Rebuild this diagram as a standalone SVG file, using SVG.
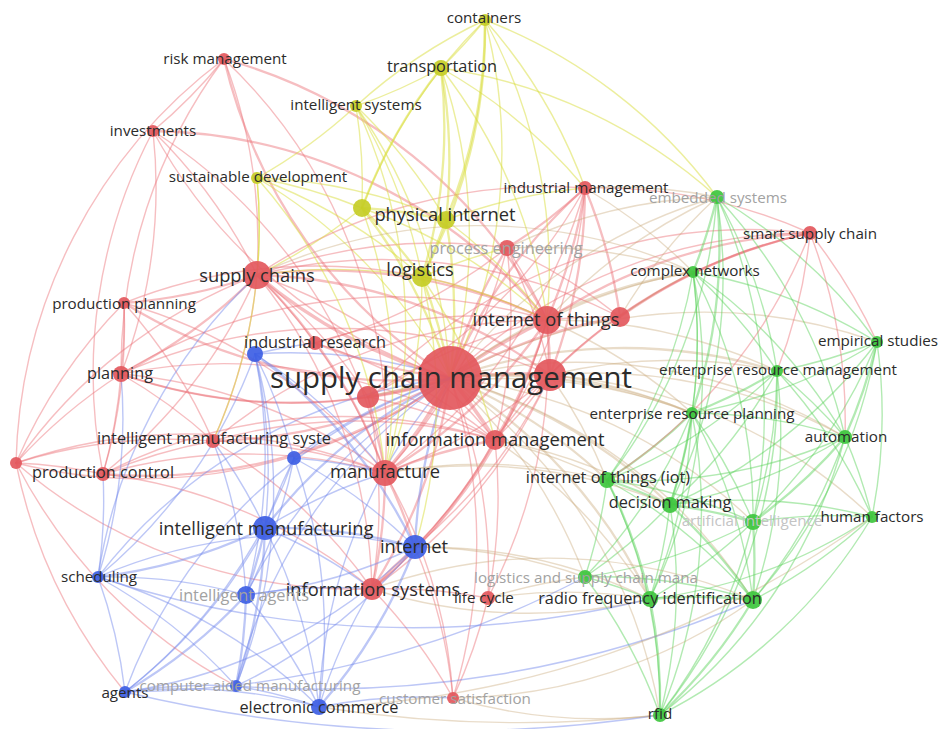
<svg xmlns="http://www.w3.org/2000/svg" width="939" height="729" viewBox="0 0 939 729">
<style>
.c path{fill:none;stroke-width:1.4;stroke-linecap:round}
.r{stroke:#ec6f76;stroke-opacity:.45}
.y{stroke:#d9dd3c;stroke-opacity:.5}
.g{stroke:#55d155;stroke-opacity:.45}
.b{stroke:#6c82ea;stroke-opacity:.45}
.o{stroke:#c9a877;stroke-opacity:.4}
.w2{stroke-width:2.3!important}
.w3{stroke-width:3.5!important}
.nr{fill:#e3585d;fill-opacity:.92}
.ny{fill:#c5cd26;fill-opacity:.92}
.ng{fill:#3ec63e;fill-opacity:.92}
.nb{fill:#3d5ee4;fill-opacity:.92}
text{font-family:"Open Sans","Noto Sans",sans-serif;text-anchor:middle;dominant-baseline:central;fill:#2b2b2b}
.f{fill:#a2a2a2}
.ff{fill:#c4c4c4}
.s{font-size:15.2px}
.m{font-size:16.3px}
.l{font-size:18.3px}
.xl{font-size:29.4px}
</style>
<rect width="939" height="729" fill="#fff"/>
<g id="connectors" class="c">
<path class="r w2" d="M450 378A520 520 0 0 1 224 59"/>
<path class="r" d="M450 378A520 520 0 0 1 153 131"/>
<path class="r w3" d="M450 378A520 520 0 0 1 257 275"/>
<path class="r w2" d="M450 378A520 520 0 0 1 124 303"/>
<path class="r w2" d="M450 378A520 520 0 0 1 315 343"/>
<path class="r w2" d="M450 378A520 520 0 0 1 121 374"/>
<path class="r w2" d="M450 378A520 520 0 0 1 213 441"/>
<path class="r w2" d="M450 378A520 520 0 0 1 103 474"/>
<path class="r" d="M450 378A520 520 0 0 1 16 463"/>
<path class="r w3" d="M450 378A520 520 0 0 1 368 397"/>
<path class="r w3" d="M450 378A520 520 0 0 1 550 375"/>
<path class="r w3" d="M450 378A520 520 0 0 1 547 320"/>
<path class="r w2" d="M450 378A520 520 0 0 1 620 317"/>
<path class="r w3" d="M450 378A520 520 0 0 1 495 440"/>
<path class="r w3" d="M450 378A520 520 0 0 1 385 473"/>
<path class="r w2" d="M450 378A520 520 0 0 1 372 589"/>
<path class="r" d="M450 378A520 520 0 0 1 488 598"/>
<path class="r" d="M450 378A520 520 0 0 1 453 698"/>
<path class="r w2" d="M450 378A520 520 0 0 1 507 248"/>
<path class="r w2" d="M450 378A520 520 0 0 1 585 188"/>
<path class="r" d="M450 378A520 520 0 0 1 810 233"/>
<path class="y w2" d="M422 277A520 520 0 0 1 450 378"/>
<path class="y w2" d="M362 208A520 520 0 0 1 450 378"/>
<path class="y w2" d="M446 220A520 520 0 0 1 450 378"/>
<path class="y" d="M441 68A520 520 0 0 1 450 378"/>
<path class="y" d="M356 106A520 520 0 0 1 450 378"/>
<path class="y" d="M257 178A520 520 0 0 1 450 378"/>
<path class="y" d="M485 20A520 520 0 0 1 450 378"/>
<path class="o" d="M450 378A520 520 0 0 1 717 197"/>
<path class="o w2" d="M450 378A520 520 0 0 1 693 272"/>
<path class="o" d="M450 378A520 520 0 0 1 877 342"/>
<path class="o w2" d="M450 378A520 520 0 0 1 777 371"/>
<path class="o w2" d="M450 378A520 520 0 0 1 692 413"/>
<path class="o" d="M450 378A520 520 0 0 1 845 437"/>
<path class="o w2" d="M450 378A520 520 0 0 1 607 480"/>
<path class="o w2" d="M450 378A520 520 0 0 1 670 505"/>
<path class="o" d="M450 378A520 520 0 0 1 753 522"/>
<path class="o" d="M450 378A520 520 0 0 1 872 517"/>
<path class="o" d="M450 378A520 520 0 0 1 585 577"/>
<path class="o w2" d="M450 378A520 520 0 0 1 650 599"/>
<path class="o" d="M450 378A520 520 0 0 1 753 600"/>
<path class="o" d="M450 378A520 520 0 0 1 660 715"/>
<path class="b w2" d="M265 528A520 520 0 0 1 450 378"/>
<path class="b w2" d="M415 547A520 520 0 0 1 450 378"/>
<path class="b" d="M98 577A520 520 0 0 1 450 378"/>
<path class="b" d="M246 595A520 520 0 0 1 450 378"/>
<path class="b" d="M125 692A520 520 0 0 1 450 378"/>
<path class="b" d="M236 686A520 520 0 0 1 450 378"/>
<path class="b" d="M319 707A520 520 0 0 1 450 378"/>
<path class="b" d="M255 354A520 520 0 0 1 450 378"/>
<path class="b" d="M294 458A520 520 0 0 1 450 378"/>
<path class="r w2" d="M257 275A520 520 0 0 1 124 303"/>
<path class="r w2" d="M257 275A520 520 0 0 1 121 374"/>
<path class="r" d="M257 275A520 520 0 0 1 213 441"/>
<path class="r" d="M257 275A520 520 0 0 1 103 474"/>
<path class="r" d="M153 131A520 520 0 0 1 257 275"/>
<path class="r" d="M224 59A520 520 0 0 1 257 275"/>
<path class="r" d="M257 275A520 520 0 0 1 315 343"/>
<path class="r w2" d="M257 275A520 520 0 0 1 547 320"/>
<path class="r w2" d="M257 275A520 520 0 0 1 385 473"/>
<path class="r" d="M257 275A520 520 0 0 1 495 440"/>
<path class="r" d="M16 463A520 520 0 0 1 257 275"/>
<path class="r" d="M257 275A520 520 0 0 1 507 248"/>
<path class="r w2" d="M257 275A520 520 0 0 1 550 375"/>
<path class="r" d="M257 275A520 520 0 0 1 372 589"/>
<path class="r" d="M257 275A520 520 0 0 1 368 397"/>
<path class="r" d="M257 275A520 520 0 0 1 585 188"/>
<path class="r" d="M257 275A520 520 0 0 1 620 317"/>
<path class="r" d="M124 303A520 520 0 0 1 121 374"/>
<path class="r" d="M121 374A520 520 0 0 1 103 474"/>
<path class="r" d="M121 374A520 520 0 0 1 213 441"/>
<path class="r" d="M16 463A520 520 0 0 1 121 374"/>
<path class="r" d="M121 374A520 520 0 0 1 385 473"/>
<path class="r" d="M121 374A520 520 0 0 1 495 440"/>
<path class="r" d="M121 374A520 520 0 0 1 547 320"/>
<path class="r" d="M121 374A520 520 0 0 1 550 375"/>
<path class="r" d="M16 463A520 520 0 0 1 103 474"/>
<path class="r" d="M103 474A520 520 0 0 1 213 441"/>
<path class="r" d="M103 474A520 520 0 0 1 385 473"/>
<path class="r" d="M103 474A520 520 0 0 1 372 589"/>
<path class="r" d="M103 474A520 520 0 0 1 495 440"/>
<path class="r" d="M16 463A520 520 0 0 1 124 303"/>
<path class="r" d="M124 303A520 520 0 0 1 103 474"/>
<path class="r" d="M124 303A520 520 0 0 1 547 320"/>
<path class="r" d="M124 303A520 520 0 0 1 385 473"/>
<path class="r" d="M124 303A520 520 0 0 1 213 441"/>
<path class="r" d="M224 59A520 520 0 0 1 153 131"/>
<path class="r" d="M153 131A520 520 0 0 1 121 374"/>
<path class="r" d="M153 131A520 520 0 0 1 385 473"/>
<path class="r w2" d="M153 131A520 520 0 0 1 547 320"/>
<path class="r" d="M224 59A520 520 0 0 1 385 473"/>
<path class="r w2" d="M224 59A520 520 0 0 1 547 320"/>
<path class="r" d="M121 374A520 520 0 0 1 224 59"/>
<path class="r" d="M213 441A520 520 0 0 1 385 473"/>
<path class="r" d="M213 441A520 520 0 0 1 495 440"/>
<path class="r" d="M213 441A520 520 0 0 1 372 589"/>
<path class="r" d="M213 441A520 520 0 0 1 547 320"/>
<path class="r" d="M16 463A520 520 0 0 1 385 473"/>
<path class="r" d="M372 589A520 520 0 0 1 16 463"/>
<path class="r" d="M16 463A520 520 0 0 1 213 441"/>
<path class="r" d="M315 343A520 520 0 0 1 385 473"/>
<path class="r" d="M315 343A520 520 0 0 1 547 320"/>
<path class="r" d="M315 343A520 520 0 0 1 495 440"/>
<path class="r" d="M368 397A520 520 0 0 1 385 473"/>
<path class="r" d="M368 397A520 520 0 0 1 495 440"/>
<path class="r" d="M368 397A520 520 0 0 1 547 320"/>
<path class="r" d="M368 397A520 520 0 0 1 121 374"/>
<path class="r w2" d="M585 188A520 520 0 0 1 547 320"/>
<path class="r w2" d="M585 188A520 520 0 0 1 507 248"/>
<path class="r w2" d="M585 188A520 520 0 0 1 550 375"/>
<path class="r" d="M585 188A520 520 0 0 1 495 440"/>
<path class="r" d="M585 188A520 520 0 0 1 385 473"/>
<path class="r" d="M585 188A520 520 0 0 1 810 233"/>
<path class="r w2" d="M585 188A520 520 0 0 1 620 317"/>
<path class="r" d="M585 188A520 520 0 0 1 368 397"/>
<path class="r" d="M507 248A520 520 0 0 1 547 320"/>
<path class="r" d="M507 248A520 520 0 0 1 385 473"/>
<path class="r" d="M507 248A520 520 0 0 1 495 440"/>
<path class="r" d="M507 248A520 520 0 0 1 550 375"/>
<path class="r" d="M507 248A520 520 0 0 1 315 343"/>
<path class="r" d="M507 248A520 520 0 0 1 620 317"/>
<path class="r w2" d="M547 320A520 520 0 0 1 550 375"/>
<path class="r w2" d="M547 320A520 520 0 0 1 495 440"/>
<path class="r w2" d="M547 320A520 520 0 0 1 385 473"/>
<path class="r w2" d="M547 320A520 520 0 0 1 810 233"/>
<path class="r" d="M547 320A520 520 0 0 1 620 317"/>
<path class="r" d="M547 320A520 520 0 0 1 372 589"/>
<path class="r w2" d="M620 317A520 520 0 0 1 810 233"/>
<path class="r w2" d="M550 375A520 520 0 0 1 810 233"/>
<path class="r" d="M368 397A520 520 0 0 1 810 233"/>
<path class="r" d="M495 440A520 520 0 0 1 810 233"/>
<path class="r w2" d="M385 473A520 520 0 0 1 495 440"/>
<path class="r w2" d="M385 473A520 520 0 0 1 372 589"/>
<path class="r" d="M372 589A520 520 0 0 1 488 598"/>
<path class="r" d="M372 589A520 520 0 0 1 453 698"/>
<path class="r" d="M488 598A520 520 0 0 1 453 698"/>
<path class="r" d="M495 440A520 520 0 0 1 488 598"/>
<path class="r w2" d="M495 440A520 520 0 0 1 372 589"/>
<path class="r" d="M385 473A520 520 0 0 1 453 698"/>
<path class="r" d="M547 320A520 520 0 0 1 488 598"/>
<path class="r" d="M415 547A520 520 0 0 1 453 698"/>
<path class="r" d="M550 375A520 520 0 0 1 495 440"/>
<path class="r" d="M550 375A520 520 0 0 1 385 473"/>
<path class="r" d="M550 375A520 520 0 0 1 372 589"/>
<path class="r w2" d="M385 473A520 520 0 0 1 415 547"/>
<path class="r w2" d="M372 589A520 520 0 0 1 415 547"/>
<path class="r" d="M495 440A520 520 0 0 1 415 547"/>
<path class="r" d="M547 320A520 520 0 0 1 415 547"/>
<path class="r" d="M550 375A520 520 0 0 1 415 547"/>
<path class="r" d="M368 397A520 520 0 0 1 372 589"/>
<path class="y" d="M485 20A520 520 0 0 1 441 68"/>
<path class="y" d="M356 106A520 520 0 0 1 485 20"/>
<path class="y w2" d="M485 20A520 520 0 0 1 422 277"/>
<path class="y" d="M362 208A520 520 0 0 1 485 20"/>
<path class="y w2" d="M485 20A520 520 0 0 1 446 220"/>
<path class="y" d="M485 20A520 520 0 0 1 717 197"/>
<path class="y" d="M485 20A520 520 0 0 1 585 188"/>
<path class="y" d="M485 20A520 520 0 0 1 547 320"/>
<path class="y" d="M441 68A520 520 0 0 1 356 106"/>
<path class="y w2" d="M362 208A520 520 0 0 1 441 68"/>
<path class="y w2" d="M441 68A520 520 0 0 1 422 277"/>
<path class="y w2" d="M441 68A520 520 0 0 1 446 220"/>
<path class="y" d="M441 68A520 520 0 0 1 585 188"/>
<path class="y" d="M441 68A520 520 0 0 1 717 197"/>
<path class="y" d="M441 68A520 520 0 0 1 547 320"/>
<path class="y" d="M356 106A520 520 0 0 1 362 208"/>
<path class="y" d="M356 106A520 520 0 0 1 422 277"/>
<path class="y" d="M356 106A520 520 0 0 1 257 178"/>
<path class="y" d="M356 106A520 520 0 0 1 446 220"/>
<path class="y" d="M356 106A520 520 0 0 1 385 473"/>
<path class="y" d="M257 178A520 520 0 0 1 362 208"/>
<path class="y" d="M257 178A520 520 0 0 1 422 277"/>
<path class="y" d="M257 178A520 520 0 0 1 257 275"/>
<path class="y" d="M257 178A520 520 0 0 1 446 220"/>
<path class="y" d="M257 178A520 520 0 0 1 213 441"/>
<path class="y" d="M257 178A520 520 0 0 1 385 473"/>
<path class="y w2" d="M362 208A520 520 0 0 1 422 277"/>
<path class="y w2" d="M362 208A520 520 0 0 1 446 220"/>
<path class="y w2" d="M446 220A520 520 0 0 1 422 277"/>
<path class="y" d="M422 277A520 520 0 0 1 547 320"/>
<path class="y" d="M422 277A520 520 0 0 1 507 248"/>
<path class="y" d="M422 277A520 520 0 0 1 385 473"/>
<path class="y" d="M257 275A520 520 0 0 1 422 277"/>
<path class="y" d="M362 208A520 520 0 0 1 547 320"/>
<path class="y" d="M362 208A520 520 0 0 1 257 275"/>
<path class="y" d="M446 220A520 520 0 0 1 547 320"/>
<path class="y" d="M422 277A520 520 0 0 1 415 547"/>
<path class="y" d="M422 277A520 520 0 0 1 495 440"/>
<path class="y" d="M446 220A520 520 0 0 1 585 188"/>
<path class="y" d="M362 208A520 520 0 0 1 385 473"/>
<path class="g w2" d="M717 197A520 520 0 0 1 693 272"/>
<path class="g" d="M717 197A520 520 0 0 1 777 371"/>
<path class="g w2" d="M717 197A520 520 0 0 1 692 413"/>
<path class="g" d="M717 197A520 520 0 0 1 607 480"/>
<path class="g" d="M717 197A520 520 0 0 1 845 437"/>
<path class="g" d="M717 197A520 520 0 0 1 877 342"/>
<path class="g" d="M717 197A520 520 0 0 1 670 505"/>
<path class="g" d="M717 197A520 520 0 0 1 753 522"/>
<path class="g" d="M693 272A520 520 0 0 1 777 371"/>
<path class="g" d="M693 272A520 520 0 0 1 692 413"/>
<path class="g" d="M693 272A520 520 0 0 1 607 480"/>
<path class="g" d="M693 272A520 520 0 0 1 670 505"/>
<path class="g" d="M693 272A520 520 0 0 1 845 437"/>
<path class="g" d="M693 272A520 520 0 0 1 753 522"/>
<path class="g" d="M693 272A520 520 0 0 1 877 342"/>
<path class="g" d="M693 272A520 520 0 0 1 650 599"/>
<path class="g" d="M877 342A520 520 0 0 1 777 371"/>
<path class="g w2" d="M877 342A520 520 0 0 1 845 437"/>
<path class="g" d="M877 342A520 520 0 0 1 872 517"/>
<path class="g" d="M877 342A520 520 0 0 1 753 522"/>
<path class="g" d="M877 342A520 520 0 0 1 753 600"/>
<path class="g" d="M877 342A520 520 0 0 1 670 505"/>
<path class="g" d="M877 342A520 520 0 0 1 692 413"/>
<path class="g w2" d="M777 371A520 520 0 0 1 692 413"/>
<path class="g" d="M777 371A520 520 0 0 1 845 437"/>
<path class="g" d="M777 371A520 520 0 0 1 753 522"/>
<path class="g" d="M777 371A520 520 0 0 1 872 517"/>
<path class="g" d="M777 371A520 520 0 0 1 670 505"/>
<path class="g" d="M777 371A520 520 0 0 1 607 480"/>
<path class="g" d="M777 371A520 520 0 0 1 753 600"/>
<path class="g" d="M777 371A520 520 0 0 1 660 715"/>
<path class="g w2" d="M692 413A520 520 0 0 1 607 480"/>
<path class="g w2" d="M692 413A520 520 0 0 1 670 505"/>
<path class="g" d="M692 413A520 520 0 0 1 753 522"/>
<path class="g" d="M692 413A520 520 0 0 1 845 437"/>
<path class="g" d="M692 413A520 520 0 0 1 650 599"/>
<path class="g" d="M692 413A520 520 0 0 1 585 577"/>
<path class="g" d="M692 413A520 520 0 0 1 753 600"/>
<path class="g" d="M692 413A520 520 0 0 1 660 715"/>
<path class="g" d="M845 437A520 520 0 0 1 872 517"/>
<path class="g w2" d="M845 437A520 520 0 0 1 753 522"/>
<path class="g" d="M845 437A520 520 0 0 1 753 600"/>
<path class="g" d="M845 437A520 520 0 0 1 670 505"/>
<path class="g" d="M845 437A520 520 0 0 1 660 715"/>
<path class="g" d="M845 437A520 520 0 0 1 607 480"/>
<path class="g w2" d="M607 480A520 520 0 0 1 670 505"/>
<path class="g" d="M607 480A520 520 0 0 1 753 522"/>
<path class="g" d="M607 480A520 520 0 0 1 585 577"/>
<path class="g w2" d="M607 480A520 520 0 0 1 650 599"/>
<path class="g" d="M607 480A520 520 0 0 1 753 600"/>
<path class="g" d="M607 480A520 520 0 0 1 660 715"/>
<path class="g w2" d="M670 505A520 520 0 0 1 753 522"/>
<path class="g" d="M670 505A520 520 0 0 1 585 577"/>
<path class="g" d="M670 505A520 520 0 0 1 650 599"/>
<path class="g w2" d="M670 505A520 520 0 0 1 753 600"/>
<path class="g" d="M670 505A520 520 0 0 1 660 715"/>
<path class="g" d="M670 505A520 520 0 0 1 872 517"/>
<path class="g" d="M753 522A520 520 0 0 1 872 517"/>
<path class="g w2" d="M753 522A520 520 0 0 1 753 600"/>
<path class="g" d="M753 522A520 520 0 0 1 660 715"/>
<path class="g" d="M753 522A520 520 0 0 1 650 599"/>
<path class="g" d="M753 522A520 520 0 0 1 585 577"/>
<path class="g" d="M872 517A520 520 0 0 1 753 600"/>
<path class="g" d="M872 517A520 520 0 0 1 660 715"/>
<path class="g" d="M872 517A520 520 0 0 1 650 599"/>
<path class="g" d="M585 577A520 520 0 0 1 650 599"/>
<path class="g" d="M585 577A520 520 0 0 1 753 600"/>
<path class="g" d="M585 577A520 520 0 0 1 660 715"/>
<path class="g w2" d="M650 599A520 520 0 0 1 753 600"/>
<path class="g w2" d="M650 599A520 520 0 0 1 660 715"/>
<path class="g w2" d="M753 600A520 520 0 0 1 660 715"/>
<path class="o" d="M547 320A520 520 0 0 1 693 272"/>
<path class="o" d="M547 320A520 520 0 0 1 777 371"/>
<path class="o" d="M547 320A520 520 0 0 1 692 413"/>
<path class="o" d="M547 320A520 520 0 0 1 717 197"/>
<path class="o" d="M620 317A520 520 0 0 1 717 197"/>
<path class="o" d="M620 317A520 520 0 0 1 693 272"/>
<path class="o" d="M550 375A520 520 0 0 1 692 413"/>
<path class="o" d="M550 375A520 520 0 0 1 607 480"/>
<path class="o" d="M550 375A520 520 0 0 1 777 371"/>
<path class="o" d="M550 375A520 520 0 0 1 845 437"/>
<path class="o" d="M495 440A520 520 0 0 1 607 480"/>
<path class="o" d="M495 440A520 520 0 0 1 670 505"/>
<path class="o" d="M495 440A520 520 0 0 1 650 599"/>
<path class="o" d="M488 598A520 520 0 0 1 585 577"/>
<path class="o" d="M488 598A520 520 0 0 1 650 599"/>
<path class="o" d="M660 715A520 520 0 0 1 453 698"/>
<path class="o" d="M753 600A520 520 0 0 1 453 698"/>
<path class="o" d="M650 599A520 520 0 0 1 372 589"/>
<path class="o" d="M415 547A520 520 0 0 1 650 599"/>
<path class="o" d="M415 547A520 520 0 0 1 585 577"/>
<path class="o" d="M585 188A520 520 0 0 1 717 197"/>
<path class="o" d="M585 188A520 520 0 0 1 693 272"/>
<path class="o" d="M507 248A520 520 0 0 1 717 197"/>
<path class="o" d="M507 248A520 520 0 0 1 693 272"/>
<path class="o" d="M385 473A520 520 0 0 1 607 480"/>
<path class="o" d="M372 589A520 520 0 0 1 753 600"/>
<path class="o" d="M385 473A520 520 0 0 1 670 505"/>
<path class="o" d="M368 397A520 520 0 0 1 692 413"/>
<path class="o" d="M257 275A520 520 0 0 1 693 272"/>
<path class="r" d="M810 233A520 520 0 0 1 777 371"/>
<path class="r" d="M810 233A520 520 0 0 1 845 437"/>
<path class="r" d="M810 233A520 520 0 0 1 877 342"/>
<path class="r" d="M810 233A520 520 0 0 1 607 480"/>
<path class="b w2" d="M265 528A520 520 0 0 1 246 595"/>
<path class="b w2" d="M265 528A520 520 0 0 1 98 577"/>
<path class="b" d="M265 528A520 520 0 0 1 125 692"/>
<path class="b w2" d="M265 528A520 520 0 0 1 236 686"/>
<path class="b" d="M265 528A520 520 0 0 1 319 707"/>
<path class="b w2" d="M265 528A520 520 0 0 1 415 547"/>
<path class="b" d="M265 528A520 520 0 0 1 294 458"/>
<path class="b" d="M255 354A520 520 0 0 1 265 528"/>
<path class="b" d="M265 528A520 520 0 0 1 385 473"/>
<path class="b" d="M265 528A520 520 0 0 1 372 589"/>
<path class="b" d="M213 441A520 520 0 0 1 265 528"/>
<path class="b" d="M415 547A520 520 0 0 1 246 595"/>
<path class="b w2" d="M415 547A520 520 0 0 1 319 707"/>
<path class="b" d="M415 547A520 520 0 0 1 236 686"/>
<path class="b" d="M294 458A520 520 0 0 1 415 547"/>
<path class="b w2" d="M255 354A520 520 0 0 1 415 547"/>
<path class="b" d="M98 577A520 520 0 0 1 415 547"/>
<path class="b" d="M415 547A520 520 0 0 1 125 692"/>
<path class="b" d="M98 577A520 520 0 0 1 246 595"/>
<path class="b w2" d="M246 595A520 520 0 0 1 125 692"/>
<path class="b w2" d="M246 595A520 520 0 0 1 236 686"/>
<path class="b" d="M246 595A520 520 0 0 1 319 707"/>
<path class="b" d="M246 595A520 520 0 0 1 372 589"/>
<path class="b" d="M98 577A520 520 0 0 1 125 692"/>
<path class="b" d="M98 577A520 520 0 0 1 236 686"/>
<path class="b" d="M98 577A520 520 0 0 1 319 707"/>
<path class="b" d="M125 692A520 520 0 0 1 236 686"/>
<path class="b" d="M125 692A520 520 0 0 1 319 707"/>
<path class="b" d="M236 686A520 520 0 0 1 319 707"/>
<path class="b" d="M255 354A520 520 0 0 1 294 458"/>
<path class="b" d="M255 354A520 520 0 0 1 315 343"/>
<path class="b" d="M255 354A520 520 0 0 1 385 473"/>
<path class="b" d="M255 354A520 520 0 0 1 246 595"/>
<path class="b" d="M294 458A520 520 0 0 1 246 595"/>
<path class="b" d="M294 458A520 520 0 0 1 385 473"/>
<path class="b" d="M255 354A520 520 0 0 1 98 577"/>
<path class="b" d="M121 374A520 520 0 0 1 98 577"/>
<path class="b" d="M103 474A520 520 0 0 1 98 577"/>
<path class="b" d="M319 707A520 520 0 0 1 372 589"/>
<path class="b" d="M319 707A520 520 0 0 1 453 698"/>
<path class="b" d="M213 441A520 520 0 0 1 246 595"/>
<path class="b" d="M294 458A520 520 0 0 1 319 707"/>
<path class="b" d="M294 458A520 520 0 0 1 125 692"/>
<path class="b" d="M255 354A520 520 0 0 1 236 686"/>
<path class="b" d="M660 715A1400 1400 0 0 1 125 692"/>
<path class="b" d="M753 600A1100 1100 0 0 1 236 686"/>
<path class="b" d="M650 599A1000 1000 0 0 1 98 577"/>
<path class="b" d="M585 577A1000 1000 0 0 1 125 692"/>
<path class="o" d="M660 715A1300 1300 0 0 1 319 707"/>
<path class="o" d="M872 517A1000 1000 0 0 1 319 707"/>
<path class="r" d="M125 692A520 520 0 0 1 16 463"/>
<path class="r" d="M16 463A520 520 0 0 1 224 59"/>
<path class="r" d="M103 474A520 520 0 0 1 153 131"/>
<path class="r" d="M236 686A520 520 0 0 1 16 463"/>
<path class="b" d="M98 577A520 520 0 0 1 257 275"/>
</g>
<g id="nodes">
<g id="n-r368"><circle class="nr" cx="368" cy="397" r="11"/></g>
<g id="n-r550"><circle class="nr" cx="550" cy="375" r="16"/></g>
<g id="n-r619"><circle class="nr" cx="620" cy="317" r="10"/></g>
<g id="n-r16"><circle class="nr" cx="16" cy="463" r="6"/></g>
<g id="n-b255"><circle class="nb" cx="255" cy="354" r="8"/></g>
<g id="n-b294"><circle class="nb" cx="294" cy="458" r="7"/></g>
<g id="n-pi2"><circle class="ny" cx="446" cy="220" r="9"/></g>
<g id="n-g753"><circle class="ng" cx="753" cy="600" r="9"/></g>

<g id="n-risk"><circle class="nr" cx="224" cy="59" r="6"/><text class="s" x="225" y="58">risk management</text></g>
<g id="n-inv"><circle class="nr" cx="153" cy="131" r="6"/><text class="s" x="153" y="130">investments</text></g>
<g id="n-sc"><circle class="nr" cx="257" cy="275" r="14"/><text class="l" x="257" y="274">supply chains</text></g>
<g id="n-pp"><circle class="nr" cx="124" cy="303" r="6"/><text class="s" x="124" y="303">production planning</text></g>
<g id="n-ir"><circle class="nr" cx="315" cy="343" r="7"/><text class="m" x="315" y="342">industrial research</text></g>
<g id="n-plan"><circle class="nr" cx="121" cy="374" r="8"/><text class="m" x="120" y="373">planning</text></g>
<g id="n-ims"><circle class="nr" cx="213" cy="441" r="7"/><text class="m" x="214" y="438">intelligent manufacturing syste</text></g>
<g id="n-pc"><circle class="nr" cx="103" cy="474" r="7"/><text class="m" x="103" y="472">production control</text></g>
<g id="n-iot"><circle class="nr" cx="547" cy="320" r="14"/><text class="l" x="546" y="318">internet of things</text></g>
<g id="n-im"><circle class="nr" cx="495" cy="440" r="10"/><text class="l" x="495" y="438">information management</text></g>
<g id="n-mfg"><circle class="nr" cx="385" cy="473" r="13"/><text class="l" x="385" y="470">manufacture</text></g>
<g id="n-is"><circle class="nr" cx="372" cy="589" r="11"/><text class="l" x="373" y="588">information systems</text></g>
<g id="n-lc"><circle class="nr" cx="488" cy="598" r="7"/><text class="s" x="484" y="597">life cycle</text></g>
<g id="n-cs"><circle class="nr" cx="453" cy="698" r="6"/><text class="s f" x="455" y="698">customer satisfaction</text></g>
<g id="n-pe"><circle class="nr" cx="507" cy="248" r="8"/><text class="m f" x="506" y="248">process engineering</text></g>
<g id="n-indm"><circle class="nr" cx="585" cy="188" r="7"/><text class="s" x="586" y="187">industrial management</text></g>
<g id="n-ssc"><circle class="nr" cx="810" cy="233" r="7"/><text class="s" x="810" y="233">smart supply chain</text></g>

<g id="n-cont"><circle class="ny" cx="485" cy="20" r="6"/><text class="s" x="484" y="17">containers</text></g>
<g id="n-trans"><circle class="ny" cx="441" cy="68" r="8"/><text class="m" x="442" y="66">transportation</text></g>
<g id="n-intsys"><circle class="ny" cx="356" cy="106" r="6"/><text class="s" x="356" y="104">intelligent systems</text></g>
<g id="n-sd"><circle class="ny" cx="257" cy="178" r="6"/><text class="s" x="258" y="176">sustainable development</text></g>
<g id="n-pi"><circle class="ny" cx="362" cy="208" r="9"/><text class="l" x="445" y="213">physical internet</text></g>
<g id="n-log"><circle class="ny" cx="422" cy="277" r="10"/><text class="l" x="420" y="268">logistics</text></g>

<g id="n-emb"><circle class="ng" cx="717" cy="197" r="7"/><text class="s f" x="718" y="197">embedded systems</text></g>
<g id="n-cn"><circle class="ng" cx="693" cy="272" r="6"/><text class="s" x="695" y="270">complex networks</text></g>
<g id="n-emp"><circle class="ng" cx="877" cy="342" r="6"/><text class="s" x="878" y="340">empirical studies</text></g>
<g id="n-erm"><circle class="ng" cx="777" cy="371" r="6"/><text class="s" x="778" y="369">enterprise resource management</text></g>
<g id="n-erp"><circle class="ng" cx="692" cy="413" r="6"/><text class="s" x="692" y="413">enterprise resource planning</text></g>
<g id="n-auto"><circle class="ng" cx="845" cy="437" r="7"/><text class="s" x="846" y="436">automation</text></g>
<g id="n-iotg"><circle class="ng" cx="607" cy="480" r="8"/><text class="m" x="608" y="477">internet of things (iot)</text></g>
<g id="n-dm"><circle class="ng" cx="670" cy="505" r="8"/><text class="m" x="670" y="502">decision making</text></g>
<g id="n-ai"><circle class="ng" cx="753" cy="522" r="8"/><text class="s ff" x="752" y="520">artificial intelligence</text></g>
<g id="n-hf"><circle class="ng" cx="872" cy="517" r="6"/><text class="s" x="872" y="516">human factors</text></g>
<g id="n-lscm"><circle class="ng" cx="585" cy="577" r="7"/><text class="s f" x="586" y="577">logistics and supply chain mana</text></g>
<g id="n-rfi"><circle class="ng" cx="650" cy="599" r="8"/><text class="m" x="650" y="598">radio frequency identification</text></g>
<g id="n-rfid"><circle class="ng" cx="660" cy="715" r="7"/><text class="s" x="660" y="713">rfid</text></g>

<g id="n-imf"><circle class="nb" cx="265" cy="528" r="12"/><text class="l" x="266" y="527">intelligent manufacturing</text></g>
<g id="n-inet"><circle class="nb" cx="415" cy="547" r="12"/><text class="l" x="414" y="545">internet</text></g>
<g id="n-sched"><circle class="nb" cx="98" cy="577" r="6"/><text class="s" x="99" y="576">scheduling</text></g>
<g id="n-ia"><circle class="nb" cx="246" cy="595" r="9"/><text class="m f" x="244" y="595">intelligent agents</text></g>
<g id="n-agents"><circle class="nb" cx="125" cy="692" r="6"/><text class="s" x="125" y="692">agents</text></g>
<g id="n-cam"><circle class="nb" cx="236" cy="686" r="6"/><text class="s f" x="250" y="685">computer aided manufacturing</text></g>
<g id="n-ec"><circle class="nb" cx="319" cy="707" r="8"/><text class="m" x="319" y="707">electronic commerce</text></g>

<g id="n-scm"><circle class="nr" cx="450" cy="378" r="32"/><text class="xl" x="451" y="377">supply chain management</text></g>
</g>
</svg>
